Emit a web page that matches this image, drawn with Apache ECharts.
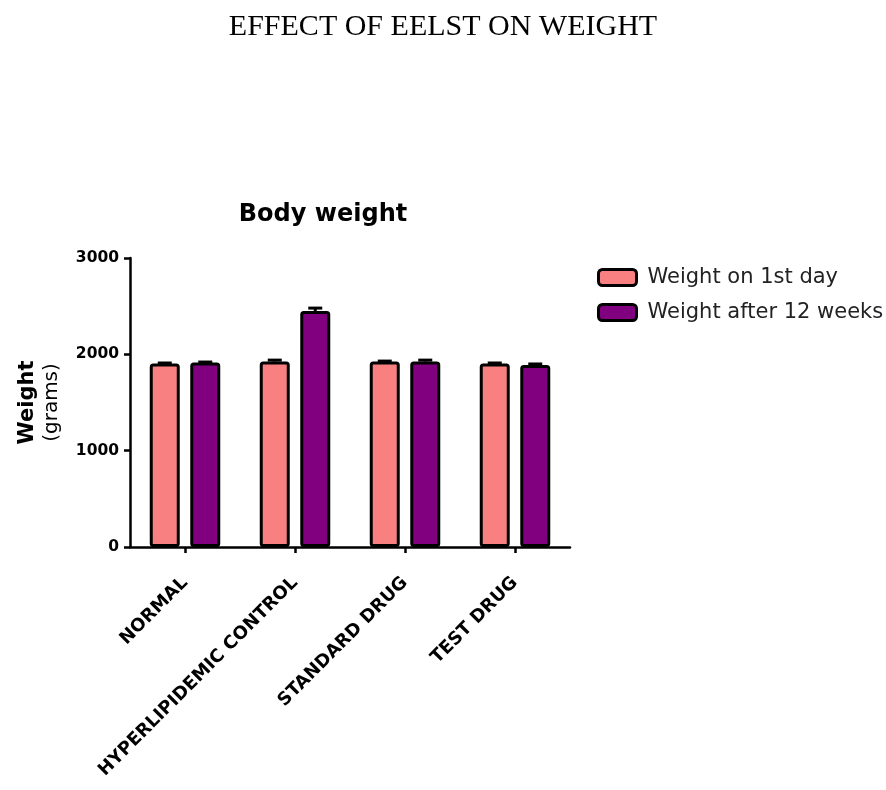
<!DOCTYPE html>
<html>
<head>
<meta charset="utf-8">
<title>Effect of EELST on weight</title>
<script src="https://cdn.jsdelivr.net/npm/echarts@6/dist/echarts.min.js"></script>
<style>
  html, body { margin: 0; padding: 0; background: #ffffff; }
  #chart { width: 886px; height: 790px; }
</style>
</head>
<body>
<div id="chart"></div>
<script>
// Group names on the x axis
const groups = ['NORMAL', 'HYPERLIPIDEMIC CONTROL', 'STANDARD DRUG', 'TEST DRUG'];

// Mean body weight (grams) per group
const weightDay1 = [1905, 1925, 1925, 1905];
const weightWeek12 = [1915, 2450, 1925, 1890];

// Error (SEM) drawn above each bar
const errDay1 = [5, 15, 5, 5];
const errWeek12 = [5, 30, 15, 10];

// Y axis ticks
const yTicks = [0, 1000, 2000, 3000];

const seriesNames = ['Weight on 1st day', 'Weight after 12 weeks'];
const colors = ['#F98080', '#800080'];

const BAR_W = 30;
const BAR_GAP = 10.5;         // px between the two bars of a group
const SANS = '"DejaVu Sans", sans-serif';

function errorSeries(name, means, errs, side) {
  return {
    type: 'custom',
    name: name + ' error',
    z: 5,
    silent: true,
    data: means.map((m, i) => [i, m, errs[i]]),
    encode: { x: 0, y: 1 },
    renderItem: function (params, api) {
      const off = side * (BAR_W + BAR_GAP) / 2;
      const base = api.coord([api.value(0), api.value(1)]);
      const top = api.coord([api.value(0), api.value(1) + api.value(2)]);
      const x = base[0] + off;
      const half = 7;
      const style = { stroke: '#000', lineWidth: 3, fill: null };
      return {
        type: 'group',
        children: [
          { type: 'line', shape: { x1: x, y1: base[1], x2: x, y2: top[1] }, style: style },
          { type: 'line', shape: { x1: x - half, y1: top[1], x2: x + half, y2: top[1] }, style: style }
        ]
      };
    }
  };
}

const chart = echarts.init(document.getElementById('chart'), null, { renderer: 'canvas' });

chart.setOption({
  backgroundColor: '#ffffff',
  animation: false,
  title: [
    {
      text: 'EFFECT OF EELST ON WEIGHT',
      left: 'center',
      top: 7,
      textStyle: { fontFamily: '"Liberation Serif", "Times New Roman", serif', fontSize: 30, fontWeight: 'normal', color: '#000' }
    },
    {
      text: 'Body weight',
      left: 318,
      textAlign: 'center',
      top: 198,
      textStyle: { fontFamily: SANS, fontSize: 24, fontWeight: 'bold', color: '#000' }
    }
  ],
  legend: {
    orient: 'vertical',
    left: 597,
    top: 267,
    padding: 0,
    itemWidth: 38,
    itemHeight: 16,
    itemGap: 14,
    icon: 'roundRect',
    data: seriesNames,
    itemStyle: { borderColor: '#000', borderWidth: 3 },
    textStyle: { fontFamily: SANS, fontSize: 21, color: '#222', padding: [0, 0, 0, 6] }
  },
  grid: { left: 130, right: 316, top: 258, bottom: 243, containLabel: false },
  xAxis: {
    type: 'category',
    data: groups,
    axisLine: { lineStyle: { color: '#000', width: 2.5 } },
    axisTick: { show: true, alignWithLabel: true, length: 6, lineStyle: { color: '#000', width: 2.5 } },
    axisLabel: {
      rotate: 45,
      margin: 33,
      interval: 0,
      fontFamily: SANS,
      fontSize: 18,
      fontWeight: 'bold',
      color: '#000'
    }
  },
  yAxis: {
    type: 'value',
    min: 0,
    max: 3000,
    interval: 1000,
    name: '{a|Weight}\n{b|(grams)}',
    nameLocation: 'middle',
    nameRotate: 90,
    nameGap: 66,
    nameTextStyle: {
      rich: {
        a: { fontFamily: SANS, fontSize: 21, fontWeight: 'bold', color: '#000', lineHeight: 24 },
        b: { fontFamily: SANS, fontSize: 20, fontWeight: 'normal', color: '#000', lineHeight: 24 }
      }
    },
    splitLine: { show: false },
    axisLine: { show: true, lineStyle: { color: '#000', width: 2.5 } },
    axisTick: { show: true, length: 6, lineStyle: { color: '#000', width: 2.5 } },
    axisLabel: {
      margin: 11,
      fontFamily: SANS,
      fontSize: 15.5,
      fontWeight: 'bold',
      color: '#000',
      formatter: function (v) { return yTicks.indexOf(v) >= 0 ? String(v) : ''; }
    }
  },
  series: [
    {
      type: 'bar',
      name: seriesNames[0],
      data: weightDay1,
      barWidth: BAR_W,
      barGap: (BAR_GAP / BAR_W * 100) + '%',
      itemStyle: { color: colors[0], borderColor: '#000', borderWidth: 3, borderRadius: 2 }
    },
    {
      type: 'bar',
      name: seriesNames[1],
      data: weightWeek12,
      barWidth: BAR_W,
      itemStyle: { color: colors[1], borderColor: '#000', borderWidth: 3, borderRadius: 2 }
    },
    errorSeries(seriesNames[0], weightDay1, errDay1, -1),
    errorSeries(seriesNames[1], weightWeek12, errWeek12, 1)
  ]
});
</script>
</body>
</html>
